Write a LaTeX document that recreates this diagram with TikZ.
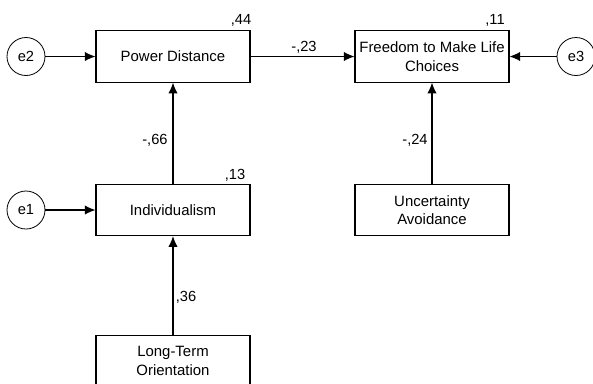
\documentclass[tikz,border=0pt]{standalone}
\usepackage{fontspec}
\setmainfont{Liberation Sans}
\usetikzlibrary{arrows.meta}
\begin{document}
\begin{tikzpicture}[x=0.75pt,y=-0.75pt,
  var/.style={draw,line width=0.8pt,minimum width=115.5pt,minimum height=38.5pt,inner sep=0pt,align=center,font=\fontsize{11.2}{14}\selectfont},
  err/.style={draw,circle,line width=0.6pt,minimum size=28.5pt,inner sep=0pt,font=\fontsize{11}{13}\selectfont},
  conn/.style={line width=0.8pt,-{Latex[length=8pt,width=7pt]}},
  lab/.style={font=\fontsize{11}{13}\selectfont,inner sep=0pt}]
\clip (0,0) rectangle (593,383);
\useasboundingbox (0,0) rectangle (593,383);
\node[var] (pd) at (173,56.5) {Power Distance};
\node[var] (fr) at (432,56.5) {Freedom to Make Life\\Choices};
\node[var] (ind) at (173,210) {Individualism};
\node[var] (ua) at (432,210) {Uncertainty\\Avoidance};
\node[var] (lto) at (173,361) {Long-Term\\Orientation};
\node[err] (e2) at (26,56.5) {e2};
\node[err] (e1) at (26,210) {e1};
\node[err] (e3) at (576,56.5) {e3};
\draw[conn] (e2) -- (pd);
\draw[conn] (e1) -- (ind);
\draw[conn] (e3) -- (fr);
\draw[conn] (pd) -- (fr);
\draw[conn] (ind) -- (pd);
\draw[conn] (lto) -- (ind);
\draw[conn] (ua) -- (fr);
\node[lab] (l44) at (241,20) {,44};
\node[lab] (l11) at (495,20) {,11};
\node[lab] (l13) at (235,175) {,13};
\node[lab] (l23) at (304,47) {-,23};
\node[lab] (l66) at (155,140) {-,66};
\node[lab] (l24) at (415,140) {-,24};
\node[lab] (l36) at (186,297) {,36};
\end{tikzpicture}
\end{document}
